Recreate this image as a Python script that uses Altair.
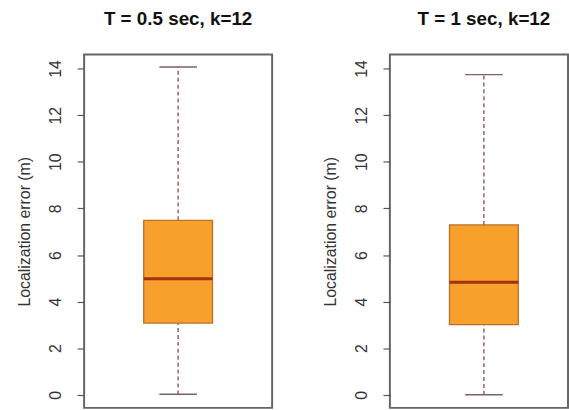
import altair as alt
import pandas as pd

# ---- data ----
titles = ["T = 0.5 sec, k=12", "T = 1 sec, k=12"]
lower_whisker = [0.02, 0.0]
q1 = [3.08, 3.01]
median = [4.98, 4.83]
q3 = [7.49, 7.29]
upper_whisker = [14.07, 13.74]
y_ticks = [0, 2, 4, 6, 8, 10, 12, 14]
y_title = "Localization error (m)"

# ---- styling ----
FONT = "Liberation Sans"
Y_DOMAIN = [-0.56, 14.6]
FULL_W = 190
BOX_HALF = 0.183
CAP_HALF = 0.1
FILL = "#F8A02C"
BOX_STROKE = "#B8702A"
MED = "#A3300E"
WHISK = "#8E4848"
CAP = "#7E6262"


def panel(i, width):
    df = pd.DataFrame({
        "lo": [lower_whisker[i]], "q1": [q1[i]], "med": [median[i]],
        "q3": [q3[i]], "hi": [upper_whisker[i]], "c": [0.5],
    })
    xs = alt.Scale(domain=[0, width / FULL_W], nice=False, zero=False)
    ys = alt.Scale(domain=Y_DOMAIN, nice=False, zero=False)
    base = alt.Chart(df).transform_calculate(
        bl=f"datum.c - {BOX_HALF}", br=f"datum.c + {BOX_HALF}",
        cl=f"datum.c - {CAP_HALF}", cr=f"datum.c + {CAP_HALF}",
    )
    yaxis = alt.Axis(
        values=y_ticks, title=y_title, domain=False, grid=False,
        tickSize=7, tickColor="#555", tickWidth=1.2,
        labelAngle=270, labelAlign="center", labelBaseline="middle",
        labelPadding=22, labelFontSize=16, labelColor="#333", labelFont=FONT,
        titleFontSize=16, titleFontWeight="normal", titleColor="#333",
        titleFont=FONT, titleX=-60, titleBaseline="middle",
    )
    w_lo = base.mark_rule(color=WHISK, strokeDash=[4, 3], strokeWidth=1.3).encode(
        x=alt.X("c:Q", scale=xs, axis=None),
        y=alt.Y("lo:Q", scale=ys, axis=yaxis), y2="q1:Q")
    w_hi = base.mark_rule(color=WHISK, strokeDash=[4, 3], strokeWidth=1.3).encode(
        x=alt.X("c:Q", scale=xs, axis=None),
        y=alt.Y("q3:Q", scale=ys, axis=yaxis), y2="hi:Q")
    cap_lo = base.mark_rule(color=CAP, strokeWidth=1.5).encode(
        x=alt.X("cl:Q", scale=xs, axis=None), x2="cr:Q",
        y=alt.Y("lo:Q", scale=ys, axis=yaxis))
    cap_hi = base.mark_rule(color=CAP, strokeWidth=1.5).encode(
        x=alt.X("cl:Q", scale=xs, axis=None), x2="cr:Q",
        y=alt.Y("hi:Q", scale=ys, axis=yaxis))
    box = base.mark_rect(fill=FILL, stroke=BOX_STROKE, strokeWidth=1.3).encode(
        x=alt.X("bl:Q", scale=xs, axis=None), x2="br:Q",
        y=alt.Y("q1:Q", scale=ys, axis=yaxis), y2="q3:Q")
    med = base.mark_rule(color=MED, strokeWidth=3).encode(
        x=alt.X("bl:Q", scale=xs, axis=None), x2="br:Q",
        y=alt.Y("med:Q", scale=ys, axis=yaxis))
    return alt.layer(w_lo, w_hi, cap_lo, cap_hi, box, med).properties(
        width=width, height=357,
        title=alt.TitleParams(titles[i], fontSize=19, fontWeight="bold",
                              font=FONT, color="#111", anchor="middle",
                              offset=11, baseline="alphabetic",
                              dx=(FULL_W - width) / 2),
    )


chart = alt.hconcat(panel(0, FULL_W), panel(1, 180), spacing=49).properties(
    padding={"left": 16, "top": 7, "right": 0, "bottom": 0},
    background="white",
).configure_view(stroke="#666", strokeWidth=2)

chart.save("out.html", embed_options={"renderer": "svg", "actions": False})
